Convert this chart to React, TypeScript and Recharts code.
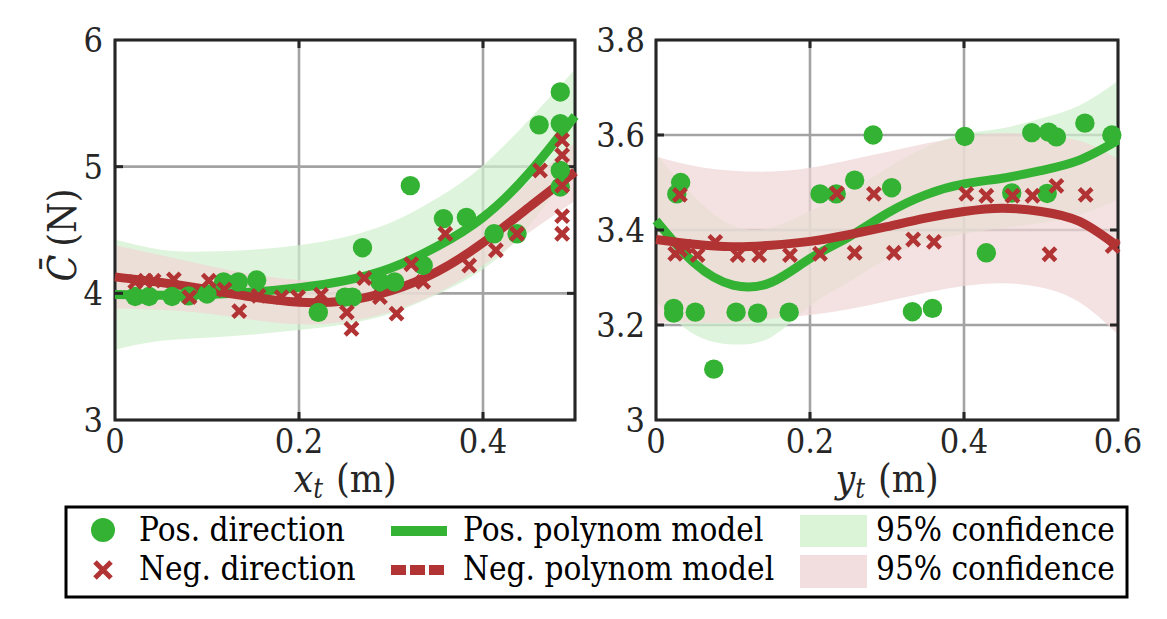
import React from 'react';
import {
  ComposedChart,
  Area,
  Line,
  Scatter,
  XAxis,
  YAxis,
  CartesianGrid,
  ReferenceArea,
  ReferenceLine,
  Label,
} from 'recharts';

const GREEN = '#33b233';
const RED = '#b23333';
const GREEN_BAND = '#d2f0cd';
const RED_BAND = '#efd6d6';
const INK = '#262626';
const FONT = "'DejaVu Serif Condensed', 'DejaVu Serif'";

// ---- left panel: C vs x_t ----
const xtTicks = [0, 0.2, 0.4];
const xtCTicks = [3, 4, 5, 6];
const xtGrid = [0, 0.05, 0.1, 0.15, 0.2, 0.25, 0.3, 0.35, 0.4, 0.45, 0.5];
const xtPosModel = [3.99, 3.985, 3.99, 4.01, 4.045, 4.1, 4.2, 4.37, 4.6, 4.95, 5.4];
const xtPosLow = [3.555, 3.625, 3.65, 3.675, 3.71, 3.755, 3.84, 3.99, 4.19, 4.53, 5.03];
const xtPosHigh = [4.425, 4.345, 4.33, 4.345, 4.38, 4.445, 4.56, 4.75, 5.01, 5.37, 5.77];
const xtNegModel = [4.13, 4.085, 4.03, 3.97, 3.93, 3.94, 4.02, 4.17, 4.4, 4.68, 4.96];
const xtNegLow = [3.88, 3.87, 3.84, 3.79, 3.755, 3.775, 3.855, 4.0, 4.22, 4.48, 4.73];
const xtNegHigh = [4.38, 4.3, 4.22, 4.15, 4.105, 4.105, 4.185, 4.34, 4.58, 4.88, 5.19];

const xtPosPoints = [
  [0.022, 3.975], [0.037, 3.975], [0.062, 3.975], [0.08, 3.98], [0.1, 3.995],
  [0.118, 4.09], [0.134, 4.09], [0.154, 4.105], [0.221, 3.85], [0.25, 3.97],
  [0.258, 3.97], [0.269, 4.36], [0.288, 4.09], [0.304, 4.09], [0.321, 4.85],
  [0.335, 4.22], [0.357, 4.59], [0.382, 4.6], [0.412, 4.47], [0.437, 4.47],
  [0.461, 5.33], [0.484, 5.59], [0.484, 5.34], [0.484, 4.97], [0.484, 4.84],
];
const xtNegPoints = [
  [0.022, 4.09], [0.033, 4.1], [0.042, 4.1], [0.064, 4.11], [0.081, 3.97],
  [0.102, 4.1], [0.119, 4.03], [0.135, 3.86], [0.156, 3.98], [0.181, 3.97],
  [0.199, 3.97], [0.224, 3.99], [0.252, 3.85], [0.257, 3.72], [0.271, 4.12],
  [0.288, 3.97], [0.306, 3.84], [0.322, 4.23], [0.335, 4.09], [0.359, 4.47],
  [0.385, 4.22], [0.414, 4.34], [0.437, 4.47], [0.462, 4.97], [0.486, 5.21],
  [0.486, 5.09], [0.486, 4.85], [0.486, 4.61], [0.486, 4.47],
];

// ---- right panel: C vs y_t ----
const ytTicks = [0, 0.2, 0.4, 0.6];
const ytCTicks = [3, 3.2, 3.4, 3.6, 3.8];
const ytGrid = [0, 0.05, 0.1, 0.15, 0.2, 0.25, 0.3, 0.35, 0.4, 0.45, 0.5, 0.55, 0.6];
const ytPosModel = [3.42, 3.33, 3.284, 3.29, 3.34, 3.385, 3.435, 3.474, 3.497, 3.509, 3.525, 3.547, 3.589];
const ytPosLow = [3.25, 3.18, 3.159, 3.175, 3.24, 3.29, 3.34, 3.374, 3.392, 3.404, 3.415, 3.432, 3.464];
const ytPosHigh = [3.56, 3.47, 3.409, 3.405, 3.44, 3.48, 3.53, 3.574, 3.602, 3.614, 3.635, 3.662, 3.714];
const ytNegModel = [3.38, 3.37, 3.365, 3.368, 3.376, 3.39, 3.407, 3.425, 3.439, 3.446, 3.439, 3.418, 3.365];
const ytNegLow = [3.205, 3.205, 3.205, 3.213, 3.221, 3.233, 3.25, 3.268, 3.282, 3.288, 3.279, 3.248, 3.18];
const ytNegHigh = [3.555, 3.535, 3.525, 3.523, 3.531, 3.547, 3.564, 3.582, 3.596, 3.604, 3.599, 3.588, 3.55];

const ytPosPoints = [
  [0.032, 3.5], [0.027, 3.476], [0.023, 3.235], [0.023, 3.225], [0.051, 3.227],
  [0.075, 3.107], [0.104, 3.227], [0.132, 3.225], [0.173, 3.227], [0.213, 3.476],
  [0.234, 3.476], [0.258, 3.505], [0.282, 3.6], [0.306, 3.489], [0.333, 3.228],
  [0.359, 3.235], [0.401, 3.597], [0.429, 3.352], [0.462, 3.478], [0.488, 3.605],
  [0.508, 3.477], [0.51, 3.606], [0.52, 3.596], [0.557, 3.625], [0.592, 3.6],
];
const ytNegPoints = [
  [0.031, 3.474], [0.025, 3.35], [0.031, 3.358], [0.038, 3.365], [0.054, 3.347],
  [0.077, 3.375], [0.106, 3.347], [0.134, 3.347], [0.174, 3.347], [0.213, 3.35],
  [0.235, 3.477], [0.258, 3.352], [0.283, 3.476], [0.309, 3.352], [0.334, 3.38],
  [0.361, 3.375], [0.403, 3.476], [0.429, 3.472], [0.463, 3.472], [0.489, 3.472],
  [0.52, 3.493], [0.558, 3.474], [0.511, 3.349], [0.593, 3.366],
];

const legendRows = [
  ['Pos. direction', 'Pos. polynom model', '95% confidence'],
  ['Neg. direction', 'Neg. polynom model', '95% confidence'],
];

const buildCurve = (grid: number[], pm: number[], pl: number[], ph: number[], nm: number[], nl: number[], nh: number[]) =>
  grid.map((x, i) => ({ x, pos: pm[i], posBand: [pl[i], ph[i]], neg: nm[i], negBand: [nl[i], nh[i]] }));

const toPts = (arr: number[][]) => arr.map(([x, y]) => ({ x, y }));

const CircleMark = (props: any) => {
  const { cx, cy } = props;
  if (cx == null || cy == null) return null;
  return <circle cx={cx} cy={cy} r={9.7} fill={GREEN} />;
};

const CrossMark = (props: any) => {
  const { cx, cy } = props;
  if (cx == null || cy == null) return null;
  const s = 6.3;
  return (
    <path
      d={`M${cx - s},${cy - s}L${cx + s},${cy + s}M${cx - s},${cy + s}L${cx + s},${cy - s}`}
      stroke={RED}
      strokeWidth={4.6}
      fill="none"
    />
  );
};

const tickStyle = { fontFamily: FONT, fontSize: 34, fill: INK, fontStretch: 'condensed' };

interface PanelProps {
  left: number;
  width: number;
  margin: { top: number; right: number; bottom: number; left: number };
  yAxisWidth: number;
  yTickMargin: number;
  xDomain: [number, number];
  yDomain: [number, number];
  xTicks: number[];
  yTicks: number[];
  curve: any[];
  posPts: { x: number; y: number }[];
  negPts: { x: number; y: number }[];
  xVar: string;
  showYLabel: boolean;
}

const CHART_H = 530;
const X_AXIS_H = 70;

const Panel: React.FC<PanelProps> = (p) => {
  const plotW = p.width - p.margin.left - p.margin.right - p.yAxisWidth;
  const plotH = CHART_H - p.margin.top - p.margin.bottom - X_AXIS_H;
  const tx = (8 * (p.xDomain[1] - p.xDomain[0])) / plotW;
  const ty = (8 * (p.yDomain[1] - p.yDomain[0])) / plotH;
  const innerX = p.xTicks.filter((t) => t > p.xDomain[0] && t < p.xDomain[1]);
  const innerY = p.yTicks.filter((t) => t > p.yDomain[0] && t < p.yDomain[1]);
  const [x0, x1] = p.xDomain;
  const [y0, y1] = p.yDomain;

  return (
    <div style={{ position: 'absolute', left: p.left, top: 0 }}>
      <ComposedChart width={p.width} height={CHART_H} data={p.curve} margin={p.margin}>
        <CartesianGrid stroke="#a3a3a3" strokeWidth={2.6} />
        <XAxis
          dataKey="x"
          type="number"
          domain={p.xDomain}
          ticks={p.xTicks}
          height={X_AXIS_H}
          axisLine={false}
          tickLine={false}
          tickSize={0}
          tickMargin={9}
          tick={tickStyle}
        >
          <Label
            content={({ viewBox }: any) => (
              <text
                x={viewBox.x + viewBox.width / 2}
                y={viewBox.y + 72}
                textAnchor="middle"
                fontFamily={FONT}
                fontStretch="condensed"
                fontSize={39}
                fill={INK}
              >
                <tspan fontStyle="italic">{p.xVar}</tspan>
                <tspan fontStyle="italic" fontSize={27} dy={6}>t</tspan>
                <tspan dy={-6} dx={13}>(m)</tspan>
              </text>
            )}
          />
        </XAxis>
        <YAxis
          type="number"
          domain={p.yDomain}
          ticks={p.yTicks}
          width={p.yAxisWidth}
          axisLine={false}
          tickLine={false}
          tickSize={0}
          tickMargin={p.yTickMargin}
          tick={tickStyle}
        >
          {p.showYLabel && (
            <Label
              content={({ viewBox }: any) => {
                const lx = viewBox.x + 61;
                const ly = viewBox.y + viewBox.height / 2 + 5;
                return (
                  <text
                    x={lx}
                    y={ly}
                    textAnchor="middle"
                    transform={`rotate(-90, ${lx}, ${ly})`}
                    fontFamily={FONT}
                    fontStretch="condensed"
                    fontSize={39}
                    fill={INK}
                  >
                    <tspan fontStyle="italic">{'C\u0304'}</tspan>
                    <tspan dx={8}>(N)</tspan>
                  </text>
                );
              }}
            />
          )}
        </YAxis>

        <Area
          dataKey="posBand"
          type="natural"
          stroke="none"
          fill={GREEN_BAND}
          fillOpacity={0.7}
          isAnimationActive={false}
          activeDot={false}
        />
        <Area
          dataKey="negBand"
          type="natural"
          stroke="none"
          fill={RED_BAND}
          fillOpacity={0.7}
          isAnimationActive={false}
          activeDot={false}
        />
        <Line dataKey="pos" type="natural" stroke={GREEN} strokeWidth={9} dot={false} isAnimationActive={false} />
        <Line dataKey="neg" type="natural" stroke={RED} strokeWidth={9} dot={false} isAnimationActive={false} />
        <Scatter data={p.posPts} dataKey="y" shape={CircleMark} isAnimationActive={false} />
        <Scatter data={p.negPts} dataKey="y" shape={CrossMark} isAnimationActive={false} />

        {innerX.map((t) => (
          <ReferenceLine key={`xb${t}`} segment={[{ x: t, y: y0 }, { x: t, y: y0 + ty }]} stroke={INK} strokeWidth={3} />
        ))}
        {innerX.map((t) => (
          <ReferenceLine key={`xt${t}`} segment={[{ x: t, y: y1 - ty }, { x: t, y: y1 }]} stroke={INK} strokeWidth={3} />
        ))}
        {innerY.map((t) => (
          <ReferenceLine key={`yl${t}`} segment={[{ x: x0, y: t }, { x: x0 + tx, y: t }]} stroke={INK} strokeWidth={3} />
        ))}
        {innerY.map((t) => (
          <ReferenceLine key={`yr${t}`} segment={[{ x: x1 - tx, y: t }, { x: x1, y: t }]} stroke={INK} strokeWidth={3} />
        ))}
        <ReferenceArea x1={x0} x2={x1} y1={y0} y2={y1} fill="none" stroke={INK} strokeWidth={3} fillOpacity={0} />
      </ComposedChart>
    </div>
  );
};

const LegendBox: React.FC = () => {
  const rowY = [530, 570];
  const baseY = [541, 580];
  return (
    <svg width={1167} height={619} style={{ position: 'absolute', left: 0, top: 0, pointerEvents: 'none' }}>
      <rect x={66} y={507} width={1061} height={90} fill="#fff" stroke="#000" strokeWidth={3} />
      <circle cx={103} cy={rowY[0]} r={12} fill={GREEN} />
      <path
        d={`M${95},${rowY[1] - 8}L${111},${rowY[1] + 8}M${95},${rowY[1] + 8}L${111},${rowY[1] - 8}`}
        stroke={RED}
        strokeWidth={5}
      />
      <line x1={391} x2={447} y1={rowY[0] + 1} y2={rowY[0] + 1} stroke={GREEN} strokeWidth={10} />
      <line x1={391} x2={445} y1={rowY[1]} y2={rowY[1]} stroke={RED} strokeWidth={10} strokeDasharray="15 4" />
      <rect x={800} y={515} width={67} height={32} fill={GREEN_BAND} fillOpacity={0.8} />
      <rect x={800} y={555} width={67} height={33} fill={RED_BAND} fillOpacity={0.8} />
      {legendRows.map((row, r) => (
        <g key={r} fontFamily={FONT} fontStretch="condensed" fontSize={33} fill="#000">
          <text x={139} y={baseY[r]}>{row[0]}</text>
          <text x={463} y={baseY[r]}>{row[1]}</text>
          <text x={876} y={baseY[r]}>{row[2]}</text>
        </g>
      ))}
    </svg>
  );
};

export default function App() {
  const leftCurve = buildCurve(xtGrid, xtPosModel, xtPosLow, xtPosHigh, xtNegModel, xtNegLow, xtNegHigh);
  const rightCurve = buildCurve(ytGrid, ytPosModel, ytPosLow, ytPosHigh, ytNegModel, ytNegLow, ytNegHigh);

  return (
    <div style={{ position: 'absolute', left: 0, top: 0, width: 1167, height: 619, background: '#fff', overflow: 'hidden' }}>
      <Panel
        left={0}
        width={600}
        margin={{ top: 40, right: 25, bottom: 40, left: 15 }}
        yAxisWidth={100}
        yTickMargin={12}
        xDomain={[0, 0.5]}
        yDomain={[3, 6]}
        xTicks={xtTicks}
        yTicks={xtCTicks}
        curve={leftCurve}
        posPts={toPts(xtPosPoints)}
        negPts={toPts(xtNegPoints)}
        xVar="x"
        showYLabel
      />
      <Panel
        left={560}
        width={600}
        margin={{ top: 40, right: 42, bottom: 40, left: 16 }}
        yAxisWidth={80}
        yTickMargin={11}
        xDomain={[0, 0.6]}
        yDomain={[3, 3.8]}
        xTicks={ytTicks}
        yTicks={ytCTicks}
        curve={rightCurve}
        posPts={toPts(ytPosPoints)}
        negPts={toPts(ytNegPoints)}
        xVar="y"
        showYLabel={false}
      />
      <LegendBox />
    </div>
  );
}
